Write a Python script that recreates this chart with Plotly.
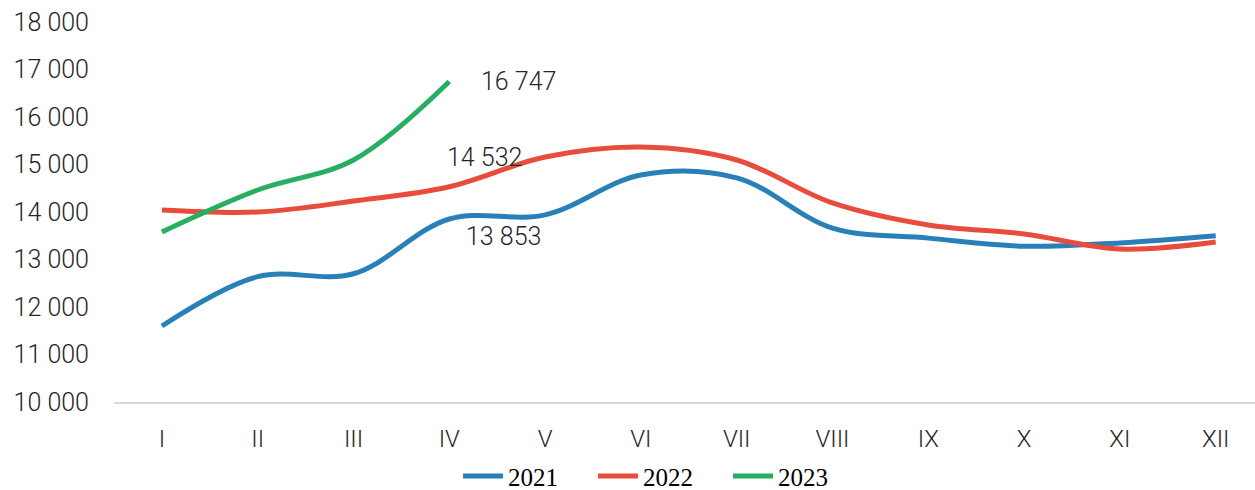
import plotly.graph_objects as go

months = ["I", "II", "III", "IV", "V", "VI", "VII", "VIII", "IX", "X", "XI", "XII"]
v2021 = [11600, 12640, 12700, 13853, 13940, 14780, 14720, 13660, 13450, 13280, 13350, 13500]
v2022 = [14042, 14000, 14230, 14532, 15158, 15368, 15095, 14190, 13726, 13537, 13221, 13368]
v2023 = [13579, 14463, 15095, 16747]
series = [("2021", v2021, "#2980B9"), ("2022", v2022, "#E74C3C"), ("2023", v2023, "#27AE60")]
yticks = list(range(10000, 18001, 1000))

fig = go.Figure()
for name, vals, color in series:
    fig.add_trace(go.Scatter(
        x=list(range(len(vals))), y=vals, name=name, mode="lines",
        line=dict(color=color, width=5, shape="spline", smoothing=1.0),
    ))

def fmt(v):
    return f"{v:,}".replace(",", " ")

labels = [(3, v2023[3], 69, 0), (3, v2022[3], 35, 29), (3, v2021[3], 54, -18)]
for xi, yv, xs, ys in labels:
    fig.add_annotation(x=xi, y=yv, text=fmt(yv), showarrow=False, xshift=xs, yshift=ys,
                       font=dict(family="Roboto", size=25, color="#262626", weight=300))

fig.update_layout(
    width=1255, height=490,
    margin=dict(l=114, r=0, t=22, b=88),
    paper_bgcolor="white", plot_bgcolor="white",
    showlegend=True,
    legend=dict(orientation="h", x=0.479, xanchor="center", xref="paper",
                y=0.028, yanchor="middle", yref="container",
                font=dict(family="Liberation Serif", size=25, color="black"),
                entrywidth=80, entrywidthmode="pixels", itemwidth=40),
    xaxis=dict(range=[-0.5, 11.41], tickmode="array", tickvals=list(range(12)), ticktext=months,
               showgrid=False, zeroline=False, showline=True, linecolor="#D9D9D9", linewidth=2,
               ticks="", ticklabelstandoff=14, automargin=False,
               tickfont=dict(family="Roboto", size=24, color="#262626", weight=300)),
    yaxis=dict(range=[10000, 18000], tickvals=yticks, ticktext=[fmt(v) for v in yticks],
               showgrid=False, zeroline=False, showline=False, ticks="",
               ticklabelstandoff=24, automargin=False,
               tickfont=dict(family="Roboto", size=25, color="#262626", weight=300)),
)

fig.write_html("out.html", config={"displayModeBar": False},
               post_script="document.body.style.margin='0';")
